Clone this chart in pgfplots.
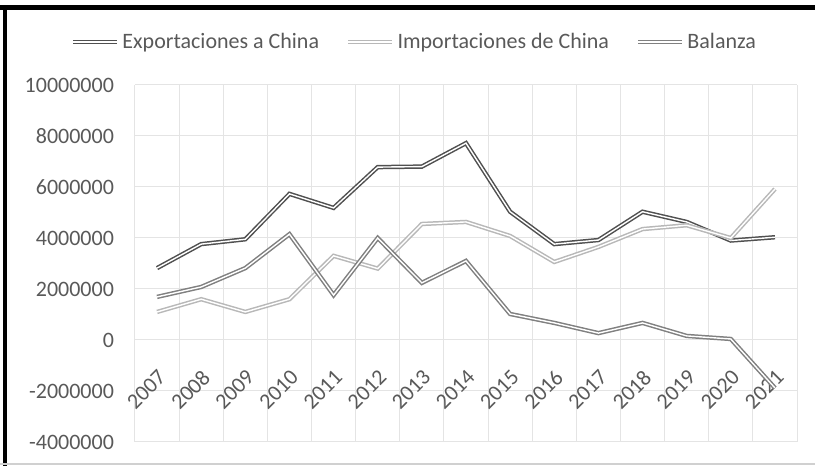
\documentclass[border=0pt]{standalone}
\usepackage{pgfplots}
\pgfplotsset{compat=1.18}
\usepackage{fontspec}
\setmainfont{Carlito}
\definecolor{txt}{HTML}{595959}
\definecolor{gridc}{HTML}{E4E4E4}
\definecolor{expc}{HTML}{505050}
\definecolor{impc}{HTML}{B8B8B8}
\definecolor{balc}{HTML}{808080}
\begin{document}
\begin{tikzpicture}
\path[use as bounding box] (-67.5pt,-12pt) rectangle (340pt,221pt);
\begin{axis}[
  scale only axis, width=331pt, height=178.5pt,
  at={(0,0)}, anchor=south west,
  xmin=-0.5, xmax=14.5, ymin=-4000000, ymax=10000000,
  xtick={0,...,14},
  xticklabels={2007,2008,2009,2010,2011,2012,2013,2014,2015,2016,2017,2018,2019,2020,2021},
  minor xtick={-0.5,0.5,...,14.5},
  xminorgrids=true, ymajorgrids=true, xmajorgrids=false,
  minor grid style={draw=gridc, line width=0.5pt},
  major grid style={draw=gridc, line width=0.5pt},
  ytick={-4000000,-2000000,0,2000000,4000000,6000000,8000000,10000000},
  scaled y ticks=false,
  /pgf/number format/fixed,
  /pgf/number format/precision=0,
  /pgf/number format/1000 sep={},
  /pgf/number format/assume math mode=true,
  axis line style={draw=none},
  tick style={draw=none},
  major tick length=0pt, minor tick length=0pt,
  every tick label/.append style={font=\fontsize{11}{13}\selectfont, text=txt},
  yticklabel style={anchor=east, xshift=-7pt},
  xticklabel style={xshift=5pt, yshift=36.5pt, rotate=45, anchor=east},
  legend style={at={(0.423,1.12)}, anchor=center, draw=none, fill=none,
    legend columns=-1, font=\fontsize{11}{13}\selectfont, text=txt,
    /tikz/every even column/.append style={column sep=12pt},
    nodes={inner sep=1.5pt}},
  legend image code/.code={\draw[#1] (0pt,0pt) -- (22pt,0pt);},
  every axis plot/.append style={line width=0.75pt, double=white, double distance=0.7pt, line join=miter},
]
\addplot[draw=expc] coordinates {
(0,2820000) (1,3760000) (2,3950000) (3,5730000) (4,5180000) (5,6780000) (6,6800000) (7,7720000)
(8,5030000) (9,3760000) (10,3920000) (11,5030000) (12,4630000) (13,3900000) (14,4030000)};
\addlegendentry{Exportaciones a China}
\addplot[draw=impc] coordinates {
(0,1100000) (1,1600000) (2,1100000) (3,1600000) (4,3300000) (5,2800000) (6,4550000) (7,4630000)
(8,4080000) (9,3060000) (10,3650000) (11,4350000) (12,4500000) (13,4000000) (14,5920000)};
\addlegendentry{Importaciones de China}
\addplot[draw=balc] coordinates {
(0,1690000) (1,2080000) (2,2820000) (3,4150000) (4,1760000) (5,4000000) (6,2240000) (7,3100000)
(8,1020000) (9,670000) (10,270000) (11,670000) (12,160000) (13,40000) (14,-1880000)};
\addlegendentry{Balanza}
\end{axis}
\draw[black, line width=2.5pt] (-67.5pt,217.25pt) -- (340pt,217.25pt);
\draw[black, line width=2pt] (-65pt,-12pt) -- (-65pt,218.5pt);
\draw[gridc!80!gray, line width=0.6pt] (-67.5pt,-11pt) -- (340pt,-11pt);
\end{tikzpicture}
\end{document}
